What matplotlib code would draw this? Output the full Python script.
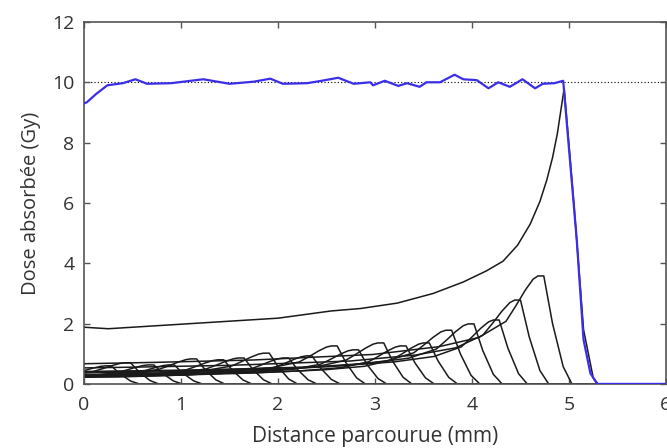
import numpy as np
import matplotlib
matplotlib.use("Agg")
import matplotlib.pyplot as plt

plt.rcParams['font.family'] = ['Open Sans', 'DejaVu Sans']

# courbe SOBP (bleue)
sobp_x = [0.0, 0.03, 0.12, 0.24, 0.4, 0.53, 0.65, 0.9, 1.1, 1.23, 1.5, 1.75, 1.92, 2.05, 2.3,
          2.45, 2.62, 2.78, 2.95, 2.98, 3.1, 3.24, 3.33, 3.46, 3.53, 3.67, 3.82, 3.91, 4.05,
          4.17, 4.27, 4.39, 4.52, 4.65, 4.73, 4.85, 4.94, 5.08, 5.15, 5.22, 5.29, 6.0]
sobp_y = [9.3, 9.34, 9.6, 9.9, 9.97, 10.1, 9.95, 9.97, 10.05, 10.1, 9.95, 10.02, 10.12, 9.95, 9.97,
          10.05, 10.15, 9.95, 10.0, 9.9, 10.05, 9.88, 9.97, 9.85, 10.0, 10.0, 10.25, 10.1, 10.07,
          9.8, 10.0, 9.85, 10.1, 9.8, 9.95, 9.97, 10.05, 4.77, 1.46, 0.36, 0.0, 0.0]

# pic de Bragg le plus profond
deep_x = [0.0, 0.25, 1.0, 2.0, 2.55, 2.85, 3.23, 3.6, 3.91, 4.15, 4.32, 4.47, 4.6, 4.7, 4.77,
          4.83, 4.88, 4.95, 5.05, 5.15, 5.25, 5.3]
deep_y = [1.88, 1.83, 1.98, 2.18, 2.42, 2.5, 2.68, 3.0, 3.38, 3.75, 4.07, 4.6, 5.3, 6.05, 6.75,
          7.5, 8.3, 9.8, 6.0, 1.8, 0.2, 0.0]

# pics de Bragg élémentaires : position du pic (mm) et dose au pic (Gy)
peak_pos = [0.24, 0.44, 0.68, 0.89, 1.12, 1.40, 1.61, 1.87, 2.07, 2.31, 2.57, 2.79, 3.05,
            3.28, 3.52, 3.75, 3.98, 4.24, 4.46, 4.70]
peak_dose = [0.60, 0.70, 0.63, 0.63, 0.83, 0.80, 0.86, 1.02, 0.86, 0.93, 1.26, 1.13, 1.36,
             1.26, 1.36, 1.78, 1.99, 2.12, 2.78, 3.58]

# forme relative d'un pic élémentaire (écart au pic en mm, fraction de la dose au pic)
shape_dx = [-4.95, -4.7, -3.95, -2.95, -2.4, -1.72, -1.04, -0.63, -0.35, -0.25, -0.15, -0.07,
            -0.02, 0.04, 0.13, 0.24, 0.33, 1.0]
shape_frac = [0.19, 0.187, 0.20, 0.222, 0.245, 0.273, 0.345, 0.43, 0.58, 0.72, 0.87, 0.97,
              1.0, 1.0, 0.56, 0.16, 0.0, 0.0]

fig = plt.figure(figsize=(6.67, 4.48), dpi=100)
ax = fig.add_axes([0.126, 0.143, 0.8725, 0.808])

ax.axhline(10, color='black', linestyle=(0, (1, 2)), linewidth=0.8, zorder=1)

dx = np.array(shape_dx)
fr = np.array(shape_frac)
for pos, dose in zip(peak_pos, peak_dose):
    ax.plot(pos + dx, dose * fr, color='#1a1a1a', linewidth=1.1, zorder=2)

ax.plot(deep_x, deep_y, color='#1a1a1a', linewidth=1.1, zorder=2)
ax.plot(sobp_x, sobp_y, color='#3b2ee8', linewidth=1.6, zorder=3)

ax.set_xlim(0, 6)
ax.set_ylim(0, 12)
ax.set_xticks(range(0, 7))
ax.set_yticks(range(0, 13, 2))
ax.tick_params(direction='in', top=True, right=True, length=4, width=1,
               labelsize=14, colors='#555555', labelcolor='#333333')
ax.tick_params(axis='x', pad=9)
ax.tick_params(axis='y', pad=7)
for s in ax.spines.values():
    s.set_color('#555555')
    s.set_linewidth(1.2)

ax.set_xlabel('Distance parcourue (mm)', fontsize=15, color='#333333', labelpad=8)
ax.set_ylabel('Dose absorbée (Gy)', fontsize=14.5, color='#333333', labelpad=8)

fig.savefig('out.png', dpi=100)
